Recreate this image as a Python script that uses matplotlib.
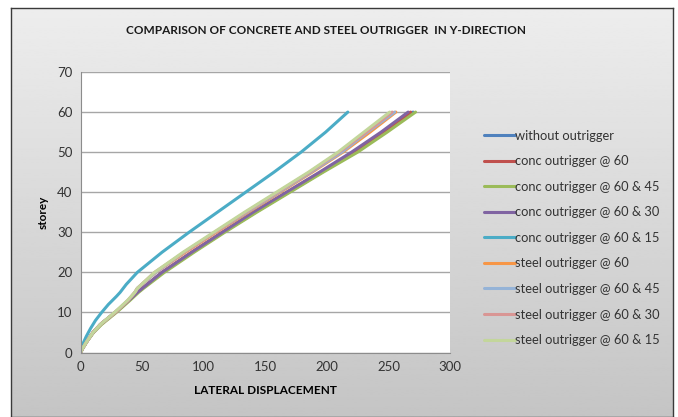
#!/usr/bin/env python3
"""
Lateral displacement vs storey: concrete and steel outriggers (Y-direction)
"""

import numpy as np
import matplotlib
matplotlib.use('Agg')
import matplotlib.pyplot as plt

# Storey levels shared by the main series
storeys = [0, 1, 2, 3, 5, 7, 10, 13, 15, 16, 20, 25, 30, 35, 40, 45, 50, 55, 60]

without_outrigger = [0, 1.5, 3.5, 5.5, 10, 16, 28, 39, 46, 50, 67, 91, 116, 142, 169, 196, 223, 247, 270]
conc_60 = [0, 1.5, 3.5, 5.5, 10, 16, 28, 39, 46, 50, 66, 90, 115, 141, 168, 195, 222, 246, 268]
conc_60_45 = [0, 1.6, 3.6, 5.7, 10.5, 17, 29, 40, 47, 51, 68, 92, 117, 143, 170, 197, 225, 249, 272]
conc_60_30 = [0, 1.5, 3.5, 5.5, 10, 16, 28, 39, 46, 50, 66, 90, 115, 140, 167, 194, 220, 244, 266]

# the "@ 60 & 15" concrete run starts one storey up
storeys_c15 = [1, 2, 3, 4, 6, 8, 10, 12, 14, 15, 17, 20, 25, 30, 35, 40, 45, 50, 55, 60]
conc_60_15 = [0, 1.5, 3, 4.5, 8, 12, 17, 22.5, 29, 32, 37, 46, 66, 88, 111, 134, 157, 179, 199, 217]

steel_60 = [0, 1.5, 3.5, 5.5, 10, 16, 28, 38.5, 44, 46, 61, 85, 110, 136, 162, 188, 213, 235, 256]
steel_60_45 = [0, 1.5, 3.5, 5.5, 10, 16, 28, 38.5, 44, 46, 61, 84, 109, 135, 161, 187, 212, 233, 255]
steel_60_30 = [0, 1.5, 3.5, 5.5, 10, 16, 28, 38.5, 44, 46, 60, 84, 109, 134, 160, 186, 210, 232, 253]
steel_60_15 = [0, 1.5, 3.5, 5.5, 10, 16, 27.5, 38, 44, 46, 60, 83, 108, 133, 159, 185, 209, 230, 251]

series = [
    ('without outrigger', storeys, without_outrigger, '#4F81BD'),
    ('conc outrigger @ 60', storeys, conc_60, '#C0504D'),
    ('conc outrigger @ 60 & 45', storeys, conc_60_45, '#9BBB59'),
    ('conc outrigger @ 60 & 30', storeys, conc_60_30, '#8064A2'),
    ('conc outrigger @ 60 & 15', storeys_c15, conc_60_15, '#4BACC6'),
    ('steel outrigger @ 60', storeys, steel_60, '#F79646'),
    ('steel outrigger @ 60 & 45', storeys, steel_60_45, '#95B3D7'),
    ('steel outrigger @ 60 & 30', storeys, steel_60_30, '#D99694'),
    ('steel outrigger @ 60 & 15', storeys, steel_60_15, '#C3D69B'),
]

plt.rcParams['font.family'] = ['Lato', 'DejaVu Sans']

W, H = 678, 417
fig = plt.figure(figsize=(W / 100, H / 100), dpi=100, facecolor='white')

# grey gradient chart area with a dark border
bg = fig.add_axes([11 / W, 0, (673 - 11) / W, 1 - 8 / H], zorder=0)
grad = np.linspace(0.93, 0.77, 256).reshape(-1, 1)
bg.imshow(grad, aspect='auto', cmap='gray', vmin=0, vmax=1, extent=[0, 1, 0, 1])
bg.set_xticks([])
bg.set_yticks([])
for s in bg.spines.values():
    s.set_color('#3a3a3a')
    s.set_linewidth(1.0)

ax = fig.add_axes([80.7 / W, 1 - 352.5 / H, (450 - 80.7) / W, (352.5 - 72) / H], zorder=1)
ax.set_facecolor('white')

for label, ys, xs, color in series:
    ax.plot(xs, ys, color=color, linewidth=2.2, label=label, solid_capstyle='round')

ax.set_xlim(0, 300)
ax.set_ylim(0, 70)
ax.set_xticks(range(0, 301, 50))
ax.set_yticks(range(0, 71, 10))
ax.grid(axis='y', color='#a6a6a6', linewidth=1)
ax.set_axisbelow(True)
ax.tick_params(length=0, labelsize=9.5, colors='#333333', pad=6)
for side in ['top', 'right']:
    ax.spines[side].set_visible(False)
for side in ['left', 'bottom']:
    ax.spines[side].set_color('#8c8c8c')

ax.set_xlabel('LATERAL DISPLACEMENT', fontsize=8.5, fontweight='bold', labelpad=9)
ax.set_ylabel('storey', fontsize=8.5, fontweight='bold', labelpad=6)

fig.text(326 / W, 1 - 30 / H, 'COMPARISON OF CONCRETE AND STEEL OUTRIGGER  IN Y-DIRECTION',
         ha='center', va='center', fontsize=8.5, fontweight='bold', color='#1a1a1a')

fig.legend(loc='upper left', bbox_to_anchor=(472 / W, 1 - 118 / H), frameon=False,
           fontsize=9.3, handlelength=2.4, handletextpad=0.05, labelspacing=1.05,
           labelcolor='#333333')

plt.savefig('out.png', dpi=100)
plt.close()
print('Saved: out.png')
